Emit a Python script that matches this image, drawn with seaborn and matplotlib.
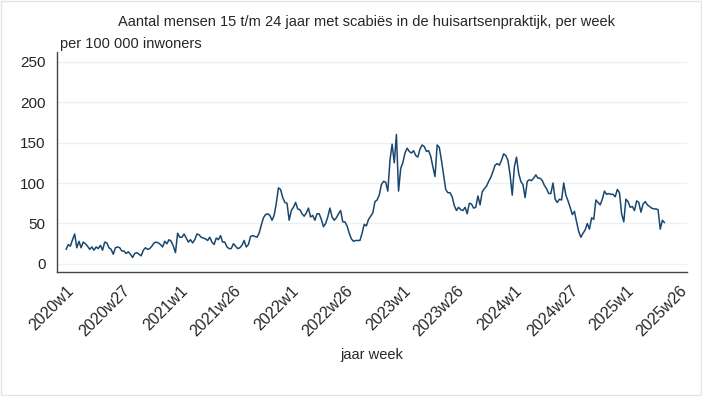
import numpy as np
import pandas as pd
import matplotlib
matplotlib.use("Agg")
import matplotlib.pyplot as plt
import seaborn as sns
from matplotlib.patches import Rectangle

# weekly values per 100 000 inhabitants
vals_2020 = [18, 24, 22, 30, 37, 20, 28, 20, 27, 25, 22, 18, 21, 17, 21, 19, 23, 17, 27, 26,
             20, 18, 12, 20, 21, 20, 16, 16, 13, 15, 12, 8, 13, 14, 12, 10, 17, 20, 18, 19,
             22, 26, 27, 26, 24, 21, 28, 25, 30, 28, 22, 14, 38]
vals_2021 = [33, 33, 37, 32, 27, 30, 26, 30, 37, 36, 33, 32, 31, 29, 33, 27, 24, 32, 30, 35,
             27, 27, 21, 19, 19, 25, 22, 19, 20, 23, 29, 21, 24, 34, 35, 34, 33, 38, 48, 57,
             61, 62, 60, 54, 60, 75, 94, 92, 82, 76, 75, 54]
vals_2022 = [66, 70, 76, 68, 67, 62, 59, 63, 69, 58, 60, 54, 62, 62, 55, 46, 50, 58, 69, 58,
             54, 57, 62, 66, 52, 52, 47, 38, 31, 28, 29, 29, 29, 38, 49, 47, 55, 59, 63, 77,
             79, 85, 98, 102, 101, 90, 128, 148, 125, 160, 90, 118]
vals_2023 = [125, 137, 143, 139, 137, 140, 134, 132, 142, 147, 145, 139, 140, 133, 120, 108,
             147, 144, 128, 110, 92, 88, 88, 83, 72, 66, 70, 67, 66, 70, 62, 75, 74, 69, 70,
             84, 73, 89, 93, 96, 102, 107, 114, 122, 124, 122, 128, 136, 134, 128, 110, 85]
vals_2024 = [120, 132, 112, 102, 98, 82, 102, 104, 103, 106, 110, 106, 106, 103, 97, 93, 87,
             87, 100, 80, 76, 80, 79, 100, 85, 78, 70, 61, 65, 52, 40, 33, 38, 42, 50, 43,
             57, 55, 79, 76, 73, 80, 90, 86, 87, 86, 86, 83, 92, 88, 62, 52]
vals_2025 = [80, 77, 70, 71, 66, 78, 76, 64, 74, 77, 73, 71, 69, 68, 68, 67, 43, 54, 51]

weeks_per_year = {2020: 53, 2021: 52, 2022: 52, 2023: 52, 2024: 52, 2025: 26}
tick_labels = ["2020w1", "2020w27", "2021w1", "2021w26", "2022w1", "2022w26",
               "2023w1", "2023w26", "2024w1", "2024w27", "2025w1", "2025w26"]
y_ticks = [0, 50, 100, 150, 200, 250]

week_labels = [f"{y}w{w}" for y, n in weeks_per_year.items() for w in range(1, n + 1)]
values = vals_2020 + vals_2021 + vals_2022 + vals_2023 + vals_2024 + vals_2025
df = pd.DataFrame({"week": week_labels[:len(values)], "value": values})
df["pos"] = np.arange(len(df))

sns.set_style("white")
plt.rcParams["font.family"] = ["Liberation Sans", "DejaVu Sans"]

fig = plt.figure(figsize=(7.02, 3.96), dpi=100)
ax = fig.add_axes([0.081, 0.313, 0.898, 0.556])

for t in y_ticks:
    ax.axhline(t, color="#eaf2f3", lw=1, zorder=0)

sns.lineplot(data=df, x="pos", y="value", color="#1a476f", lw=1.1, ax=ax)

ax.set_xlim(-4.3, 289.6)
ax.set_ylim(-10, 262)
ax.set_yticks(y_ticks)
ax.set_yticklabels([str(t) for t in y_ticks], fontsize=11)
ax.set_xticks([week_labels.index(l) for l in tick_labels])
ax.set_xticklabels(tick_labels, rotation=45, ha="right", rotation_mode="anchor", fontsize=11.5)
ax.tick_params(axis="both", direction="out", length=5, width=1, color="#444444", pad=3)
ax.grid(False)

for s in ["top", "right"]:
    ax.spines[s].set_visible(False)
for s in ["left", "bottom"]:
    ax.spines[s].set_color("#444444")
    ax.spines[s].set_linewidth(1)

ax.set_xlabel("")
ax.set_ylabel("")

fig.text(0.522, 0.944, "Aantal mensen 15 t/m 24 jaar met scabiës in de huisartsenpraktijk, per week",
         ha="center", va="center", fontsize=10.5)
fig.text(0.086, 0.89, "per 100 000 inwoners", ha="left", va="center", fontsize=10.5)
fig.text(0.53, 1 - 355 / 396, "jaar week", ha="center", va="center", fontsize=10.5)

fig.patches.append(Rectangle((0.001, 0.002), 0.997, 0.996, transform=fig.transFigure,
                             fill=False, edgecolor="#e4e4e4", lw=1))

fig.savefig("out.png", dpi=100)
